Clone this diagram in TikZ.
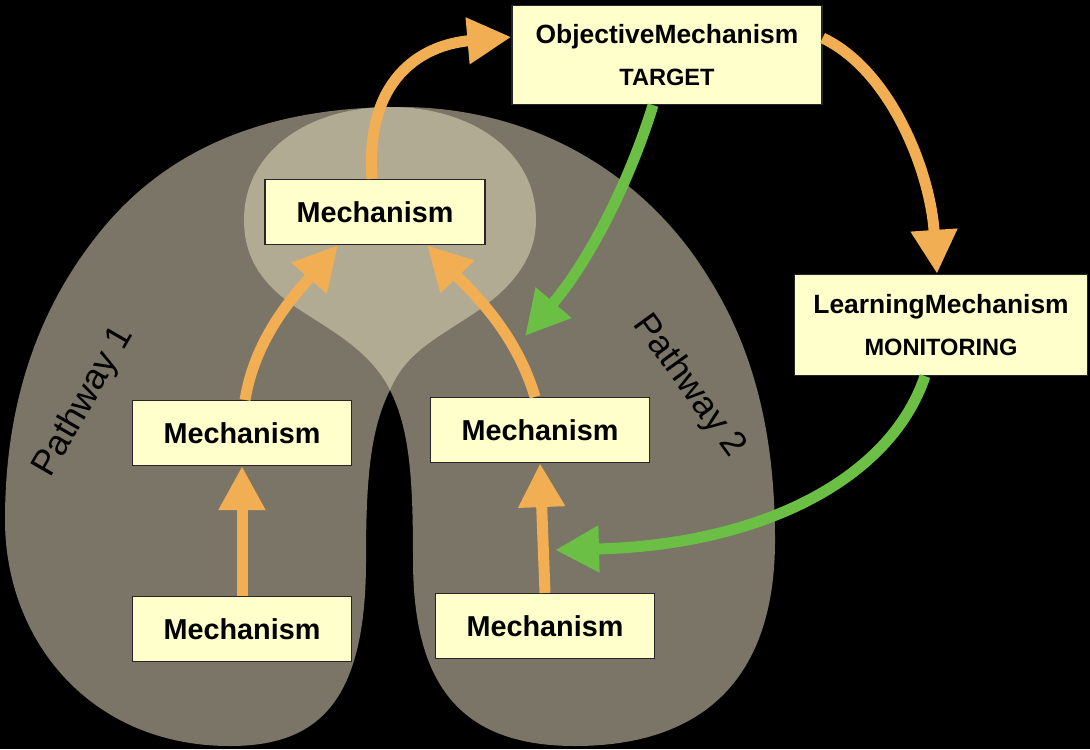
\documentclass[tikz,border=0pt]{standalone}
\usepackage{fontspec}
\setmainfont{Liberation Sans}
\usetikzlibrary{arrows.meta}

\definecolor{blobgray}{RGB}{122,117,102}
\definecolor{droptan}{RGB}{178,171,148}
\definecolor{boxyellow}{RGB}{255,255,204}
\definecolor{arroworange}{RGB}{242,174,82}
\definecolor{arrowgreen}{RGB}{108,191,69}

\newcommand{\mechfont}{\bfseries\fontsize{14.4}{17}\selectfont}
\newcommand{\bigfont}{\bfseries\fontsize{13.2}{16}\selectfont}
\newcommand{\rolefont}{\fontsize{11.8}{14}\selectfont}
\newcommand{\pathfont}{\fontsize{17.8}{21}\selectfont}

\begin{document}
\begin{tikzpicture}[
    x=0.5pt, y=-0.5pt,
    mech/.style={draw=black!85, line width=0.6pt, fill=boxyellow,
      minimum width=109.5pt, minimum height=32.5pt, inner sep=0pt, font=\mechfont},
    bigbox/.style={mech, align=center, font=\bigfont},
    oarrow/.style={draw=arroworange, line width=5.5pt,
      -{Triangle[length=22pt, width=22pt]}},
    garrow/.style={oarrow, draw=arrowgreen}]

  \fill[black] (0,0) rectangle (1090,749);

  % two pathways
  \fill[blobgray] (390,390)
    .. controls (370,430) and (366,480) .. (366,560)
    .. controls (366,700) and (320,746) .. (230,746)
    .. controls (90,746) and (5,640) .. (5,520)
    .. controls (5,400) and (40,300) .. (110,220)
    .. controls (190,130) and (300,107) .. (400,107)
    .. controls (540,107) and (650,180) .. (710,280)
    .. controls (760,360) and (775,450) .. (775,540)
    .. controls (775,700) and (680,746) .. (575,746)
    .. controls (465,746) and (413,690) .. (413,560)
    .. controls (413,480) and (410,430) .. (390,390) -- cycle;
  \fill[droptan] (390,390)
    .. controls (370,350) and (330,330) .. (297,308)
    .. controls (255,280) and (244,250) .. (244,220)
    .. controls (244,150) and (310,107) .. (390,107)
    .. controls (470,107) and (536,150) .. (536,220)
    .. controls (536,260) and (510,290) .. (470,316)
    .. controls (430,342) and (405,355) .. (390,390) -- cycle;

  \node[rotate=60, font=\pathfont] (pw1) at (84,402) {Pathway 1};
  \node[rotate=-54, font=\pathfont] (pw2) at (689,386) {Pathway 2};

  \node[mech, minimum width=110pt] (top) at (375,212) {Mechanism};
  \node[mech] (midl) at (242,433) {Mechanism};
  \node[mech] (midr) at (540,430) {Mechanism};
  \node[mech] (botl) at (242,629) {Mechanism};
  \node[mech] (botr) at (545,626) {Mechanism};
  \node[bigbox, minimum width=155pt, minimum height=49.5pt] (obj) at (667,55)
    {ObjectiveMechanism\\[5pt]{\rolefont TARGET}};
  \node[bigbox, minimum width=146.5pt, minimum height=50.5pt] (lrn) at (941,325)
    {LearningMechanism\\[5pt]{\rolefont MONITORING}};

  \coordinate (errin) at (525,336);
  \coordinate (lrnout) at (555,550);

  \draw[oarrow] (botl.north) -- (midl.south);
  \draw[oarrow] (botr.north) -- (midr.south);
  \draw[oarrow] ([xshift=1.5pt]midl.north)
    .. controls (255,340) and (290,300) .. ([xshift=-18.5pt]top.south);
  \draw[oarrow] ([xshift=-2.5pt]midr.north)
    .. controls (515,330) and (470,290) .. ([xshift=26pt]top.south);
  \draw[oarrow] ([xshift=-1.5pt]top.north)
    .. controls (365,80) and (420,45) .. ([yshift=9pt]obj.west);
  \draw[oarrow] ([yshift=8.5pt]obj.east)
    .. controls (890,70) and (930,170) .. ([xshift=-2pt]lrn.north);
  \draw[garrow] ([xshift=-7pt]obj.south)
    .. controls (630,180) and (590,260) .. (errin);
  \draw[garrow] ([xshift=-8pt]lrn.south)
    .. controls (890,480) and (760,545) .. (lrnout);
\end{tikzpicture}
\end{document}
